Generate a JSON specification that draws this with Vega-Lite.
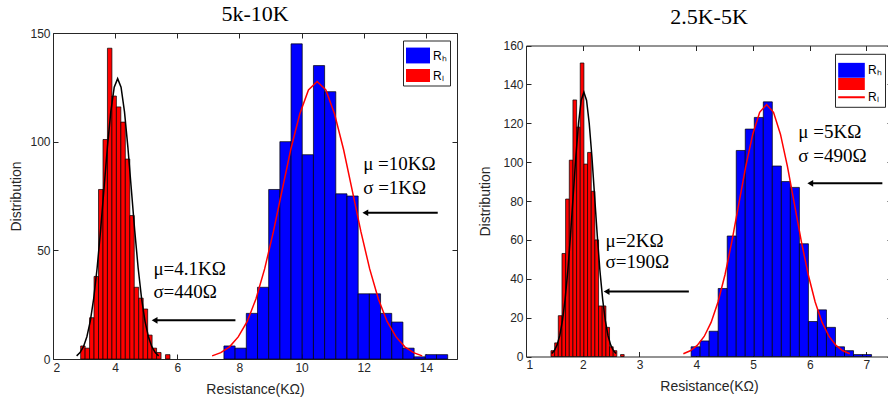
{
  "$schema": "https://vega.github.io/schema/vega-lite/v6.json",
  "background": "white",
  "padding": {"left": 8, "top": 2, "right": 0, "bottom": 5},
  "spacing": 20,
  "align": "none",
  "resolve": {"scale": {"color": "independent"}, "legend": {"color": "independent"}},
  "config": {
    "view": {"stroke": "#262626", "strokeWidth": 1},
    "axis": {
      "labelFont": "Liberation Sans", "labelFontSize": 12, "labelColor": "#262626",
      "titleFont": "Liberation Sans", "titleFontSize": 14, "titleFontWeight": "normal", "titleColor": "#262626",
      "domain": false, "grid": false, "tickColor": "#262626", "tickSize": -5, "labelPadding": 8,
      "domainColor": "#262626", "domainWidth": 1
    },
    "legend": {
      "labelFont": "Liberation Sans", "labelFontSize": 12, "labelColor": "#000000",
      "strokeColor": "#262626", "fillColor": "#ffffff", "padding": 3, "labelOffset": 3,
      "symbolStrokeWidth": 0, "title": null
    },
    "title": {"font": "Liberation Serif", "fontSize": 22, "fontWeight": "normal", "color": "#000000"}
  },
  "datasets": {
    "lBars": [
      {"lo": 2.890, "hi": 3.034, "count": 6, "series": "L"},
      {"lo": 3.034, "hi": 3.177, "count": 5, "series": "L"},
      {"lo": 3.177, "hi": 3.321, "count": 19, "series": "L"},
      {"lo": 3.321, "hi": 3.465, "count": 38, "series": "L"},
      {"lo": 3.465, "hi": 3.609, "count": 78, "series": "L"},
      {"lo": 3.609, "hi": 3.752, "count": 101, "series": "L"},
      {"lo": 3.752, "hi": 3.896, "count": 143, "series": "L"},
      {"lo": 3.896, "hi": 4.040, "count": 121, "series": "L"},
      {"lo": 4.040, "hi": 4.183, "count": 116, "series": "L"},
      {"lo": 4.183, "hi": 4.327, "count": 109, "series": "L"},
      {"lo": 4.327, "hi": 4.471, "count": 92, "series": "L"},
      {"lo": 4.471, "hi": 4.614, "count": 66, "series": "L"},
      {"lo": 4.614, "hi": 4.758, "count": 33, "series": "L"},
      {"lo": 4.758, "hi": 4.902, "count": 28, "series": "L"},
      {"lo": 4.902, "hi": 5.046, "count": 23, "series": "L"},
      {"lo": 5.046, "hi": 5.189, "count": 11, "series": "L"},
      {"lo": 5.189, "hi": 5.333, "count": 5, "series": "L"},
      {"lo": 5.333, "hi": 5.477, "count": 3, "series": "L"},
      {"lo": 5.620, "hi": 5.764, "count": 2, "series": "L"},
      {"lo": 7.50, "hi": 7.86, "count": 6, "series": "H"},
      {"lo": 7.86, "hi": 8.22, "count": 5, "series": "H"},
      {"lo": 8.22, "hi": 8.58, "count": 21, "series": "H"},
      {"lo": 8.58, "hi": 8.94, "count": 33, "series": "H"},
      {"lo": 8.94, "hi": 9.30, "count": 78, "series": "H"},
      {"lo": 9.30, "hi": 9.66, "count": 100, "series": "H"},
      {"lo": 9.66, "hi": 10.02, "count": 145, "series": "H"},
      {"lo": 10.02, "hi": 10.38, "count": 94, "series": "H"},
      {"lo": 10.38, "hi": 10.74, "count": 135, "series": "H"},
      {"lo": 10.74, "hi": 11.10, "count": 123, "series": "H"},
      {"lo": 11.10, "hi": 11.46, "count": 76, "series": "H"},
      {"lo": 11.46, "hi": 11.82, "count": 75, "series": "H"},
      {"lo": 11.82, "hi": 12.18, "count": 30, "series": "H"},
      {"lo": 12.18, "hi": 12.54, "count": 30, "series": "H"},
      {"lo": 12.54, "hi": 12.90, "count": 21, "series": "H"},
      {"lo": 12.90, "hi": 13.26, "count": 17, "series": "H"},
      {"lo": 13.26, "hi": 13.62, "count": 5, "series": "H"},
      {"lo": 13.62, "hi": 13.98, "count": 1, "series": "H"},
      {"lo": 13.98, "hi": 14.34, "count": 2, "series": "H"},
      {"lo": 14.34, "hi": 14.70, "count": 2, "series": "H"}
    ],
    "lCurveL": [
      {"x": 2.76, "y": 1.43}, {"x": 2.87, "y": 2.94}, {"x": 2.98, "y": 5.67}, {"x": 3.09, "y": 10.26},
      {"x": 3.20, "y": 17.46}, {"x": 3.31, "y": 27.90}, {"x": 3.42, "y": 41.88}, {"x": 3.53, "y": 59.06},
      {"x": 3.64, "y": 78.24}, {"x": 3.75, "y": 97.37}, {"x": 3.86, "y": 113.84}, {"x": 3.97, "y": 125.03},
      {"x": 4.08, "y": 129}, {"x": 4.19, "y": 125.03}, {"x": 4.30, "y": 113.84}, {"x": 4.41, "y": 97.37},
      {"x": 4.52, "y": 78.24}, {"x": 4.63, "y": 59.06}, {"x": 4.74, "y": 41.88}, {"x": 4.85, "y": 27.90},
      {"x": 4.96, "y": 17.46}, {"x": 5.07, "y": 10.26}, {"x": 5.18, "y": 5.67}, {"x": 5.29, "y": 2.94},
      {"x": 5.40, "y": 1.43}
    ],
    "lCurveH": [
      {"x": 7.12, "y": 1.42}, {"x": 7.40, "y": 2.91}, {"x": 7.68, "y": 5.61}, {"x": 7.96, "y": 10.16},
      {"x": 8.25, "y": 17.28}, {"x": 8.53, "y": 27.62}, {"x": 8.81, "y": 41.46}, {"x": 9.09, "y": 58.46},
      {"x": 9.37, "y": 77.45}, {"x": 9.65, "y": 96.39}, {"x": 9.94, "y": 112.70}, {"x": 10.22, "y": 123.77},
      {"x": 10.50, "y": 127.7}, {"x": 10.78, "y": 123.77}, {"x": 11.06, "y": 112.70}, {"x": 11.35, "y": 96.39},
      {"x": 11.63, "y": 77.45}, {"x": 11.91, "y": 58.46}, {"x": 12.19, "y": 41.46}, {"x": 12.47, "y": 27.62},
      {"x": 12.75, "y": 17.28}, {"x": 13.04, "y": 10.16}, {"x": 13.32, "y": 5.61}, {"x": 13.60, "y": 2.91},
      {"x": 13.88, "y": 1.42}
    ],
    "lArrows": [
      {"tail": 7.87, "head": 5.27, "y": 17.8},
      {"tail": 14.38, "head": 12.05, "y": 67.3}
    ],
    "lText": [
      {"x": 5.23, "y": 41.3, "label": "μ=4.1KΩ"},
      {"x": 5.23, "y": 31.0, "label": "σ=440Ω"},
      {"x": 11.98, "y": 89.8, "label": "μ =10KΩ"},
      {"x": 11.98, "y": 78.8, "label": "σ =1KΩ"}
    ],
    "rBars": [
      {"lo": 1.440, "hi": 1.505, "count": 3, "series": "L"},
      {"lo": 1.505, "hi": 1.569, "count": 7, "series": "L"},
      {"lo": 1.569, "hi": 1.634, "count": 21, "series": "L"},
      {"lo": 1.634, "hi": 1.698, "count": 53, "series": "L"},
      {"lo": 1.698, "hi": 1.763, "count": 81, "series": "L"},
      {"lo": 1.763, "hi": 1.827, "count": 101, "series": "L"},
      {"lo": 1.827, "hi": 1.892, "count": 132, "series": "L"},
      {"lo": 1.892, "hi": 1.956, "count": 118, "series": "L"},
      {"lo": 1.956, "hi": 2.021, "count": 151, "series": "L"},
      {"lo": 2.021, "hi": 2.085, "count": 99, "series": "L"},
      {"lo": 2.085, "hi": 2.150, "count": 105, "series": "L"},
      {"lo": 2.150, "hi": 2.214, "count": 85, "series": "L"},
      {"lo": 2.214, "hi": 2.279, "count": 60, "series": "L"},
      {"lo": 2.279, "hi": 2.343, "count": 26, "series": "L"},
      {"lo": 2.343, "hi": 2.408, "count": 26, "series": "L"},
      {"lo": 2.408, "hi": 2.472, "count": 15, "series": "L"},
      {"lo": 2.472, "hi": 2.537, "count": 5, "series": "L"},
      {"lo": 2.537, "hi": 2.601, "count": 3, "series": "L"},
      {"lo": 2.666, "hi": 2.730, "count": 1, "series": "L"},
      {"lo": 3.910, "hi": 4.069, "count": 5, "series": "H"},
      {"lo": 4.069, "hi": 4.228, "count": 8, "series": "H"},
      {"lo": 4.228, "hi": 4.387, "count": 13, "series": "H"},
      {"lo": 4.387, "hi": 4.546, "count": 35, "series": "H"},
      {"lo": 4.546, "hi": 4.705, "count": 62, "series": "H"},
      {"lo": 4.705, "hi": 4.864, "count": 106, "series": "H"},
      {"lo": 4.864, "hi": 5.023, "count": 117, "series": "H"},
      {"lo": 5.023, "hi": 5.182, "count": 123, "series": "H"},
      {"lo": 5.182, "hi": 5.341, "count": 131, "series": "H"},
      {"lo": 5.341, "hi": 5.500, "count": 98, "series": "H"},
      {"lo": 5.500, "hi": 5.659, "count": 90, "series": "H"},
      {"lo": 5.659, "hi": 5.818, "count": 87, "series": "H"},
      {"lo": 5.818, "hi": 5.977, "count": 58, "series": "H"},
      {"lo": 5.977, "hi": 6.136, "count": 18, "series": "H"},
      {"lo": 6.136, "hi": 6.295, "count": 24, "series": "H"},
      {"lo": 6.295, "hi": 6.454, "count": 15, "series": "H"},
      {"lo": 6.454, "hi": 6.613, "count": 5, "series": "H"},
      {"lo": 6.613, "hi": 6.772, "count": 3, "series": "H"},
      {"lo": 6.772, "hi": 6.931, "count": 1, "series": "H"},
      {"lo": 6.931, "hi": 7.090, "count": 1, "series": "H"}
    ],
    "rCurveL": [
      {"x": 1.453, "y": 1.51}, {"x": 1.500, "y": 3.10}, {"x": 1.548, "y": 5.98}, {"x": 1.595, "y": 10.82},
      {"x": 1.642, "y": 18.41}, {"x": 1.689, "y": 29.41}, {"x": 1.737, "y": 44.15}, {"x": 1.784, "y": 62.26},
      {"x": 1.831, "y": 82.49}, {"x": 1.878, "y": 102.66}, {"x": 1.926, "y": 120.02}, {"x": 1.973, "y": 131.82},
      {"x": 2.020, "y": 136}, {"x": 2.067, "y": 131.82}, {"x": 2.114, "y": 120.02}, {"x": 2.162, "y": 102.66},
      {"x": 2.209, "y": 82.49}, {"x": 2.256, "y": 62.26}, {"x": 2.303, "y": 44.15}, {"x": 2.351, "y": 29.41},
      {"x": 2.398, "y": 18.41}, {"x": 2.445, "y": 10.82}, {"x": 2.492, "y": 5.98}, {"x": 2.540, "y": 3.10},
      {"x": 2.587, "y": 1.51}
    ],
    "rCurveH": [
      {"x": 3.773, "y": 1.44}, {"x": 3.895, "y": 2.95}, {"x": 4.017, "y": 5.69}, {"x": 4.140, "y": 10.31},
      {"x": 4.262, "y": 17.54}, {"x": 4.384, "y": 28.03}, {"x": 4.507, "y": 42.07}, {"x": 4.629, "y": 59.33},
      {"x": 4.751, "y": 78.61}, {"x": 4.873, "y": 97.83}, {"x": 4.996, "y": 114.37}, {"x": 5.118, "y": 125.61},
      {"x": 5.240, "y": 129.6}, {"x": 5.362, "y": 125.61}, {"x": 5.484, "y": 114.37}, {"x": 5.607, "y": 97.83},
      {"x": 5.729, "y": 78.61}, {"x": 5.851, "y": 59.33}, {"x": 5.974, "y": 42.07}, {"x": 6.096, "y": 28.03},
      {"x": 6.218, "y": 17.54}, {"x": 6.341, "y": 10.31}, {"x": 6.463, "y": 5.69}, {"x": 6.585, "y": 2.95},
      {"x": 6.707, "y": 1.44}
    ],
    "rArrows": [
      {"tail": 3.87, "head": 2.42, "y": 33.4},
      {"tail": 7.28, "head": 6.01, "y": 89.1}
    ],
    "rText": [
      {"x": 2.40, "y": 59.6, "label": "μ=2KΩ"},
      {"x": 2.40, "y": 48.5, "label": "σ=190Ω"},
      {"x": 5.80, "y": 115.3, "label": "μ =5KΩ"},
      {"x": 5.80, "y": 103.3, "label": "σ =490Ω"}
    ]
  },
  "hconcat": [
    {
      "width": 404,
      "height": 326,
      "title": {"text": "5k-10K", "offset": 1.5},
      "resolve": {"axis": {"x": "independent", "y": "independent"}},
      "layer": [
        {
          "data": {"name": "lBars"},
          "mark": {"type": "bar", "stroke": "#000000", "strokeWidth": 0.7, "opacity": 1},
          "encoding": {
            "x": {"field": "lo", "type": "quantitative", "scale": {"domain": [2, 15], "nice": false, "zero": false},
                  "axis": {"values": [2, 4, 6, 8, 10, 12, 14], "title": "Resistance(KΩ)", "titlePadding": 9}},
            "x2": {"field": "hi"},
            "y": {"field": "count", "type": "quantitative", "scale": {"domain": [0, 150], "nice": false},
                  "axis": {"values": [0, 50, 100, 150], "title": "Distribution", "titleX": -30}},
            "y2": {"datum": 0},
            "color": {"field": "series", "type": "nominal",
                      "scale": {"domain": ["H", "L"], "range": ["#0000ff", "#ff0000"]},
                      "legend": {"orient": "none", "legendX": 350, "legendY": 7.5, "direction": "vertical",
                                 "symbolType": {"expr": "datum.value == 'H' ? 'M-1,-0.66H1V0.66H-1Z' : 'M-1,-0.54H1V0.54H-1Z'"},
                                 "symbolSize": 576, "rowPadding": -3.5,
                                 "labelExpr": "datum.value == 'H' ? 'Rₕ' : 'Rₗ'"}}
          }
        },
        {
          "data": {"name": "lCurveL"},
          "mark": {"type": "line", "color": "#000000", "strokeWidth": 1.5},
          "encoding": {
            "x": {"field": "x", "type": "quantitative", "axis": {"orient": "top", "values": [2, 4, 6, 8, 10, 12, 14], "labels": false, "title": null}},
            "y": {"field": "y", "type": "quantitative", "axis": {"orient": "right", "values": [0, 50, 100, 150], "labels": false, "title": null}}
          }
        },
        {
          "data": {"name": "lCurveH"},
          "mark": {"type": "line", "color": "#ff0000", "strokeWidth": 1.5},
          "encoding": {
            "x": {"field": "x", "type": "quantitative", "axis": null},
            "y": {"field": "y", "type": "quantitative", "axis": null}
          }
        },
        {
          "data": {"name": "lArrows"},
          "mark": {"type": "rule", "color": "#000000", "strokeWidth": 2},
          "encoding": {
            "x": {"field": "tail", "type": "quantitative", "axis": null},
            "x2": {"field": "head"},
            "y": {"field": "y", "type": "quantitative", "axis": null}
          }
        },
        {
          "data": {"name": "lArrows"},
          "mark": {"type": "point", "shape": "triangle-left", "filled": true, "color": "#000000", "size": 45, "opacity": 1},
          "encoding": {
            "x": {"field": "head", "type": "quantitative", "axis": null},
            "y": {"field": "y", "type": "quantitative", "axis": null}
          }
        },
        {
          "data": {"name": "lText"},
          "mark": {"type": "text", "align": "left", "baseline": "middle", "font": "Liberation Serif", "fontSize": 19, "color": "#000000"},
          "encoding": {
            "x": {"field": "x", "type": "quantitative", "axis": null},
            "y": {"field": "y", "type": "quantitative", "axis": null},
            "text": {"field": "label"}
          }
        }
      ]
    },
    {
      "width": 366,
      "height": 323.5,
      "view": {"stroke": null},
      "title": {"text": "2.5K-5K", "offset": 4},
      "resolve": {"axis": {"x": "independent", "y": "independent"}},
      "layer": [
        {
          "data": {"name": "rBars"},
          "mark": {"type": "bar", "stroke": "#000000", "strokeWidth": 0.7, "opacity": 1},
          "encoding": {
            "x": {"field": "lo", "type": "quantitative", "scale": {"domain": [1, 7.45], "nice": false, "zero": false},
                  "axis": {"values": [1, 2, 3, 4, 5, 6, 7], "title": "Resistance(KΩ)", "titlePadding": 9, "domain": true}},
            "x2": {"field": "hi"},
            "y": {"field": "count", "type": "quantitative", "scale": {"domain": [0, 160], "nice": false, "range": [323.5, 12.5]},
                  "axis": {"values": [0, 20, 40, 60, 80, 100, 120, 140, 160], "title": "Distribution", "titleX": -34, "domain": true}},
            "y2": {"datum": 0},
            "color": {"field": "series", "type": "nominal",
                      "scale": {"domain": ["H", "L"], "range": ["#0000ff", "#ff0000"]},
                      "legend": {"orient": "none", "legendX": 309, "legendY": 20.8, "direction": "vertical",
                                 "symbolType": {"expr": "datum.value == 'H' ? 'M-1,-0.56H1V0.56H-1Z' : 'M-1,-1.45H1V-0.55H-1Z M-1,-0.08H1V0.08H-1Z'"},
                                 "symbolSize": 708, "rowPadding": 0,
                                 "labelExpr": "datum.value == 'H' ? 'Rₕ' : 'Rₗ'"}}
          }
        },
        {
          "data": {"name": "rCurveL"},
          "mark": {"type": "line", "color": "#000000", "strokeWidth": 1.5},
          "encoding": {
            "x": {"field": "x", "type": "quantitative", "axis": {"orient": "top", "offset": -12.5, "values": [1, 2, 3, 4, 5, 6, 7], "labels": false, "title": null, "domain": true}},
            "y": {"field": "y", "type": "quantitative", "axis": {"orient": "right", "values": [0, 20, 40, 60, 80, 100, 120, 140, 160], "labels": false, "title": null, "domain": true}}
          }
        },
        {
          "data": {"name": "rCurveH"},
          "mark": {"type": "line", "color": "#ff0000", "strokeWidth": 1.5},
          "encoding": {
            "x": {"field": "x", "type": "quantitative", "axis": null},
            "y": {"field": "y", "type": "quantitative", "axis": null}
          }
        },
        {
          "data": {"name": "rArrows"},
          "mark": {"type": "rule", "color": "#000000", "strokeWidth": 2},
          "encoding": {
            "x": {"field": "tail", "type": "quantitative", "axis": null},
            "x2": {"field": "head"},
            "y": {"field": "y", "type": "quantitative", "axis": null}
          }
        },
        {
          "data": {"name": "rArrows"},
          "mark": {"type": "point", "shape": "triangle-left", "filled": true, "color": "#000000", "size": 45, "opacity": 1},
          "encoding": {
            "x": {"field": "head", "type": "quantitative", "axis": null},
            "y": {"field": "y", "type": "quantitative", "axis": null}
          }
        },
        {
          "data": {"name": "rText"},
          "mark": {"type": "text", "align": "left", "baseline": "middle", "font": "Liberation Serif", "fontSize": 19, "color": "#000000"},
          "encoding": {
            "x": {"field": "x", "type": "quantitative", "axis": null},
            "y": {"field": "y", "type": "quantitative", "axis": null},
            "text": {"field": "label"}
          }
        }
      ]
    }
  ]
}
